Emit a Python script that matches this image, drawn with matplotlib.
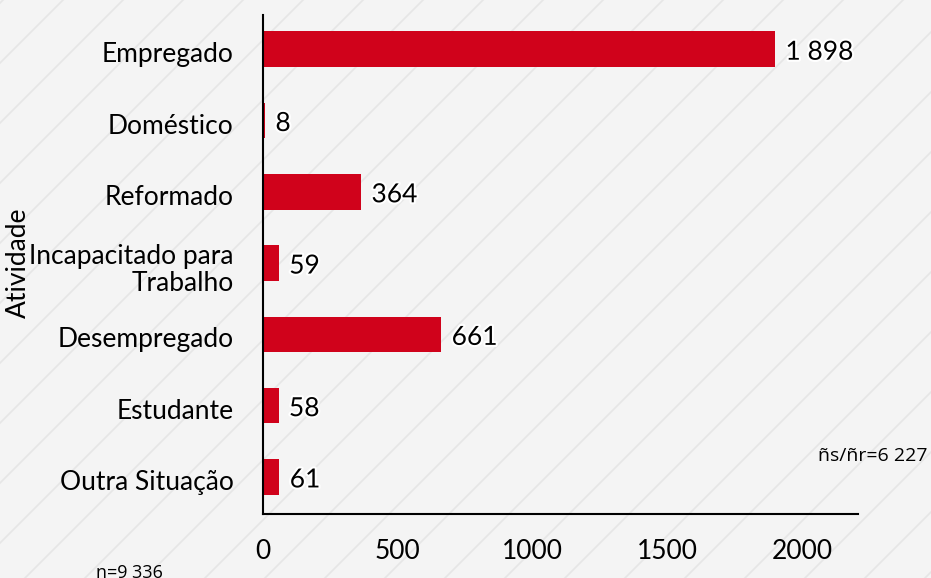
import numpy as np
import matplotlib.pyplot as plt
import matplotlib.patheffects as pe
import matplotlib.transforms as mtransforms
from matplotlib.lines import Line2D

categorias = ['Empregado', 'Doméstico', 'Reformado', 'Incapacitado para\nTrabalho',
              'Desempregado', 'Estudante', 'Outra Situação']
valores = [1898, 8, 364, 59, 661, 58, 61]
rotulos = ['1 898', '8', '364', '59', '661', '58', '61']

W, H = 931, 578
fig = plt.figure(figsize=(W / 100, H / 100), dpi=100, facecolor='#f4f4f4')

# diagonal background stripes (pixel coords -> figure coords)
for c in range(-600, W + H + 60, 60):
    c0 = c + 3
    x0, y0 = c0 - H, H
    x1, y1 = c0, 0
    fig.add_artist(Line2D([x0 / W, x1 / W], [1 - y0 / H, 1 - y1 / H],
                          transform=fig.transFigure, color='#e6e6e6', lw=1.2, zorder=0))

ax = fig.add_axes([263 / W, 1 - 514 / H, (858 - 263) / W, (514 - 15) / H])
ax.patch.set_alpha(0)

down = mtransforms.ScaledTranslation(0, -3 / 100, fig.dpi_scale_trans)

pos = np.arange(len(categorias))
ax.barh(pos, valores, height=0.5, color='#d0021b', zorder=2)
for p, v, t in zip(pos, valores, rotulos):
    ax.text(v + 38, p, t, va='center', ha='left', fontsize=19, family='Lato',
            transform=ax.transData + down,
            path_effects=[pe.withStroke(linewidth=3, foreground='white')], zorder=3)

ax.set_xlim(0, 2205)
ax.set_ylim(6.52, -0.48)
ax.set_yticks(pos)
ax.set_yticklabels(categorias, fontsize=19, family='Lato', ha='right', linespacing=1.1)
ax.set_xticks([0, 500, 1000, 1500, 2000])
ax.set_xticklabels(['0', '500', '1000', '1500', '2000'], fontsize=19, family='Lato')
ax.tick_params(axis='y', length=0, pad=21)
ax.tick_params(axis='x', length=0, pad=18)
for lbl in ax.get_yticklabels():
    lbl.set_multialignment('right')
    lbl.set_transform(lbl.get_transform() + down)
for s in ['top', 'right']:
    ax.spines[s].set_visible(False)
ax.spines['left'].set_linewidth(1.5)
ax.spines['bottom'].set_linewidth(1.5)

fig.text(18 / W, 1 - 263 / H, 'Atividade', fontsize=19, family='Lato',
         rotation=90, ha='center', va='center')
fig.text(96 / W, 1 - 573 / H, 'n=9 336', fontsize=13, family='Open Sans', va='center')
fig.text(818 / W, 1 - 456 / H, 'ñs/ñr=6 227', fontsize=14, family='Open Sans', va='center')

fig.savefig('out.png', dpi=100, facecolor=fig.get_facecolor())
